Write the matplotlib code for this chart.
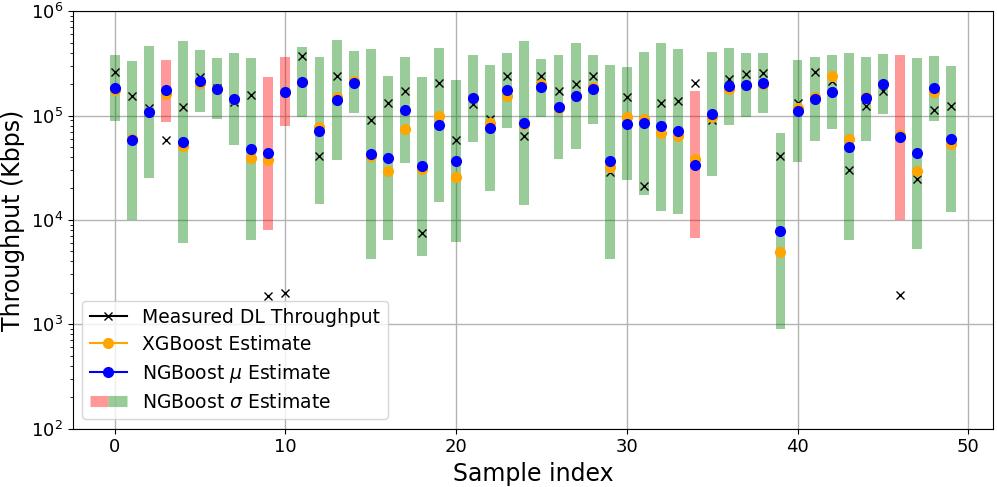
import numpy as np
import matplotlib
matplotlib.use('Agg')
import matplotlib.pyplot as plt
from matplotlib.lines import Line2D
from matplotlib.legend_handler import HandlerTuple

# values (Kbps)
sample_idx = list(range(50))

measured = [2.59e5, 1.55e5, 1.19e5, 5.8e4, 1.2e5, 2.35e5, 1.85e5, 1.35e5, 1.59e5, 1.85e3,
            1.99e3, 3.71e5, 4.06e4, 2.4e5, 2.1e5, 9.1e4, 1.33e5, 1.71e5, 7.48e3, 2.03e5,
            5.8e4, 1.29e5, 9.25e4, 2.4e5, 6.4e4, 2.4e5, 1.71e5, 1.99e5, 2.4e5, 2.87e4,
            1.49e5, 2.11e4, 1.32e5, 1.37e5, 2.03e5, 9.04e4, 2.23e5, 2.5e5, 2.57e5, 4.08e4,
            1.33e5, 2.59e5, 2.12e5, 3.0e4, 1.23e5, 1.72e5, 1.92e3, 2.44e4, 1.12e5, 1.24e5]

xgb_est = [1.77e5, 5.9e4, 1.07e5, 1.6e5, 5.1e4, 2.04e5, 1.8e5, 1.45e5, 3.88e4, 3.72e4,
           1.68e5, 2.09e5, 7.69e4, 1.49e5, 2.15e5, 4.11e4, 2.92e4, 7.41e4, 3.07e4, 9.8e4,
           2.55e4, 1.46e5, 8.5e4, 1.55e5, 8.3e4, 2.0e5, 1.19e5, 1.53e5, 1.86e5, 3.21e4,
           9.65e4, 9.2e4, 6.74e4, 6.35e4, 3.8e4, 9.6e4, 1.8e5, 1.97e5, 2.0e5, 4.92e3,
           1.19e5, 1.5e5, 2.38e5, 5.98e4, 1.49e5, 1.99e5, 6.5e4, 2.93e4, 1.68e5, 5.36e4]

ngb_mu = [1.82e5, 5.8e4, 1.07e5, 1.74e5, 5.6e4, 2.12e5, 1.8e5, 1.44e5, 4.77e4, 4.34e4,
          1.68e5, 2.09e5, 7.13e4, 1.41e5, 2.07e5, 4.27e4, 3.88e4, 1.13e5, 3.25e4, 8.09e4,
          3.63e4, 1.46e5, 7.52e4, 1.75e5, 8.4e4, 1.86e5, 1.2e5, 1.53e5, 1.78e5, 3.63e4,
          8.28e4, 8.45e4, 7.87e4, 7.05e4, 3.37e4, 1.03e5, 1.91e5, 1.97e5, 2.04e5, 7.87e3,
          1.1e5, 1.44e5, 1.68e5, 5.01e4, 1.47e5, 1.99e5, 6.2e4, 4.34e4, 1.83e5, 5.94e4]

ngb_low = [8.8e4, 1.0e4, 2.5e4, 8.7e4, 5.96e3, 1.07e5, 9.25e4, 5.18e4, 6.37e3, 8.0e3,
           7.9e4, 9.7e4, 1.42e4, 3.74e4, 1.05e5, 4.19e3, 6.37e3, 3.52e4, 4.5e3, 1.48e4,
           6.12e3, 5.52e4, 1.89e4, 7.52e4, 1.38e4, 9.73e4, 3.82e4, 4.73e4, 8.32e4, 4.22e3,
           2.4e4, 1.74e4, 1.21e4, 1.13e4, 6.65e3, 2.63e4, 8.15e4, 9.6e4, 1.05e5, 894,
           3.6e4, 5.72e4, 7.36e4, 6.41e3, 5.72e4, 1.03e5, 1.0e4, 5.25e3, 8.9e4, 1.18e4]

ngb_high = [3.8e5, 3.34e5, 4.62e5, 3.44e5, 5.16e5, 4.23e5, 3.55e5, 3.99e5, 3.55e5, 2.35e5,
            3.6e5, 4.55e5, 3.6e5, 5.27e5, 4.14e5, 4.33e5, 2.38e5, 3.6e5, 2.35e5, 4.45e5,
            2.18e5, 3.81e5, 3.02e5, 3.99e5, 5.13e5, 3.52e5, 3.77e5, 4.97e5, 3.77e5, 3.08e5,
            2.89e5, 4.07e5, 5.01e5, 4.3e5, 1.7e5, 4.02e5, 4.43e5, 3.99e5, 3.94e5, 6.82e4,
            3.4e5, 3.6e5, 3.8e5, 3.99e5, 3.6e5, 3.85e5, 3.8e5, 3.55e5, 3.73e5, 2.99e5]

x = np.array(sample_idx)
meas = np.array(measured)
low = np.array(ngb_low)
high = np.array(ngb_high)
inside = (meas >= low) & (meas <= high)
bar_colors = ['green' if ok else 'red' for ok in inside]

fig, ax = plt.subplots(figsize=(9.97, 4.87), dpi=100)
fig.subplots_adjust(left=0.073, right=0.996, top=0.977, bottom=0.12)

# sigma interval bars
ax.bar(x, high - low, bottom=low, width=0.58, color=bar_colors, alpha=0.4, zorder=2)

ax.plot(x, meas, 'x', color='black', markersize=6, zorder=3)
ax.plot(x, xgb_est, 'o', color='orange', markersize=7, zorder=4)
ax.plot(x, ngb_mu, 'o', color='blue', markersize=7, zorder=5)

ax.set_yscale('log')
ax.set_ylim(1e2, 1e6)
ax.set_xlim(-2.45, 51.45)
ax.set_xticks([0, 10, 20, 30, 40, 50])
ax.grid(True, which='major', color='0.7', linewidth=1)
ax.set_axisbelow(True)
ax.tick_params(labelsize=13)
ax.set_xlabel('Sample index', fontsize=17)
ax.set_ylabel('Throughput (Kbps)', fontsize=17)

h_meas = Line2D([], [], color='black', marker='x', markersize=6)
h_xgb = Line2D([], [], color='orange', marker='o', markersize=7)
h_ngb = Line2D([], [], color='blue', marker='o', markersize=7)
h_red = Line2D([], [], color='red', alpha=0.4, linewidth=8, solid_capstyle='butt')
h_green = Line2D([], [], color='green', alpha=0.4, linewidth=8, solid_capstyle='butt')

ax.legend([h_meas, h_xgb, h_ngb, (h_red, h_green)],
          ['Measured DL Throughput', 'XGBoost Estimate',
           r'NGBoost $\mu$ Estimate', r'NGBoost $\sigma$ Estimate'],
          handler_map={tuple: HandlerTuple(ndivide=None, pad=0)},
          loc='lower left', fontsize=13.5, labelspacing=0.42)

fig.savefig('out.png', dpi=100)
